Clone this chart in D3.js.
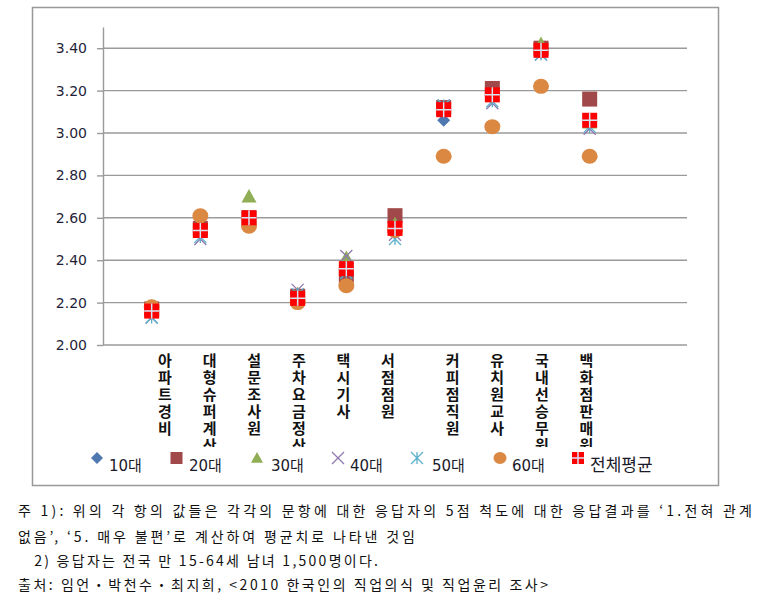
<!DOCTYPE html>
<html><head><meta charset="utf-8">
<script src="https://cdn.jsdelivr.net/npm/d3@7"></script>
<style>body{margin:0;background:#fff}svg{display:block}</style>
</head><body>
<svg id="c" width="761" height="615"></svg>
<script>
const categories = ["아파트경비","대형슈퍼계산","설문조사원","주차요금정산","택시기사","서점점원","커피점직원","유치원교사","국내선승무원","백화점판매원"];
const seriesNames = ["10대","20대","30대","40대","50대","60대","전체평균"];
const v10  = [2.15,2.53,2.58,2.22,2.35,2.55,3.06,3.17,3.38,3.04];
const v20  = [2.17,2.55,2.60,2.23,2.33,2.61,3.12,3.21,3.40,3.16];
const v30  = [2.18,2.56,2.70,2.24,2.41,2.57,3.11,3.18,3.42,3.05];
const v40  = [2.13,2.50,2.58,2.26,2.42,2.52,3.13,3.14,3.37,3.02];
const v50  = [2.13,2.51,2.58,2.24,2.34,2.50,3.13,3.15,3.37,3.03];
const v60  = [2.18,2.61,2.56,2.20,2.28,2.54,2.89,3.03,3.22,2.89];
const vAvg = [2.16,2.54,2.60,2.22,2.36,2.55,3.11,3.18,3.39,3.06];
const yTicks = [2.0,2.2,2.4,2.6,2.8,3.0,3.2,3.4];
const notes = [
  "주 1): 위의 각 항의 값들은 각각의 문항에 대한 응답자의 5점 척도에 대한 응답결과를 ‘1.전혀 관계",
  "없음’, ‘5. 매우 불편’로 계산하여 평균치로 나타낸 것임",
  "   2) 응답자는 전국 만 15-64세 남녀 1,500명이다.",
  "출처: 임언・박천수・최지희, <2010 한국인의 직업의식 및 직업윤리 조사>"
];

const allSeries = [v10,v20,v30,v40,v50,v60,vAvg];
const colors = ["#4F77B0","#A0484A","#8FAE55","#8F78B0","#5BB0CC","#DB8843","#FF0000"];
const kinds = ["diamond","square","triangle","x","star","circle","avg"];

const svg = d3.select("#c");
svg.append("defs").append("clipPath").attr("id","labclip")
  .append("rect").attr("x",100).attr("y",346).attr("width",600).attr("height",101);
svg.append("rect").attr("x",32.5).attr("y",7.5).attr("width",686).attr("height",478)
  .attr("fill","#fff").attr("stroke","#999").attr("stroke-width",1.5);

const x = d3.scaleLinear().domain([0,12]).range([103,687]);
const y = d3.scaleLinear().domain([2.0,3.5]).range([345,27]);

svg.append("g").selectAll("line").data(yTicks.slice(1)).join("line")
  .attr("x1",103).attr("x2",687).attr("y1",d=>y(d)).attr("y2",d=>y(d))
  .attr("stroke","#9a9a9a").attr("stroke-width",1.4);

const ya = svg.append("g").attr("transform","translate(103,0)")
  .call(d3.axisLeft(y).tickValues(yTicks).tickFormat(d3.format(".2f")).tickSize(6).tickSizeOuter(0));
ya.select(".domain").attr("stroke","#9a9a9a").attr("stroke-width",1.4);
ya.selectAll(".tick line").attr("stroke","#9a9a9a").attr("stroke-width",1.4);
ya.selectAll(".tick text").attr("font-family","DejaVu Sans, Verdana, sans-serif")
  .attr("font-size",14).attr("fill","#1f1f3a").attr("x",-16);

svg.append("line").attr("x1",103).attr("x2",687).attr("y1",y(2.0)).attr("y2",y(2.0))
  .attr("stroke","#9a9a9a").attr("stroke-width",1.4);

const labelX = d3.scaleLinear().domain([0,9]).range([165,566.4]);
const lab = svg.append("g").attr("clip-path","url(#labclip)");
categories.forEach((c,i)=>{
  const cx = labelX(i) + (i>=6?20:0);
  Array.from(c).forEach((ch,j)=>{
    lab.append("text").attr("x",cx).attr("y",366+j*17).attr("text-anchor","middle")
      .attr("font-family","Noto Sans CJK KR, sans-serif").attr("font-weight","bold")
      .attr("font-size",15).attr("fill","#111").text(ch);
  });
});

function drawSym(g, kind, color, cx, cy, s){
  const h = s/2;
  if(kind==="diamond"){
    g.append("path").attr("d",`M${cx},${cy-h}L${cx+h},${cy}L${cx},${cy+h}L${cx-h},${cy}Z`).attr("fill",color);
  } else if(kind==="square"){
    g.append("rect").attr("x",cx-h).attr("y",cy-h).attr("width",s).attr("height",s).attr("fill",color);
  } else if(kind==="triangle"){
    g.append("path").attr("d",`M${cx},${cy-h}L${cx+h},${cy+h*0.8}L${cx-h},${cy+h*0.8}Z`).attr("fill",color);
  } else if(kind==="x"){
    g.append("path").attr("d",`M${cx-h},${cy-h}L${cx+h},${cy+h}M${cx-h},${cy+h}L${cx+h},${cy-h}`)
      .attr("stroke",color).attr("stroke-width",1.3).attr("fill","none");
  } else if(kind==="star"){
    g.append("path").attr("d",`M${cx-h},${cy-h}L${cx+h},${cy+h}M${cx-h},${cy+h}L${cx+h},${cy-h}M${cx},${cy-h}L${cx},${cy+h}`)
      .attr("stroke",color).attr("stroke-width",1.3).attr("fill","none");
  } else if(kind==="circle"){
    g.append("ellipse").attr("cx",cx).attr("cy",cy).attr("rx",h+0.5).attr("ry",h).attr("fill",color);
  } else if(kind==="avg"){
    g.append("rect").attr("x",cx-h).attr("y",cy-h).attr("width",s).attr("height",s).attr("fill",color);
    g.append("path").attr("d",`M${cx},${cy-h}L${cx},${cy+h}M${cx-h},${cy}L${cx+h},${cy}`)
      .attr("stroke","#d8e4f4").attr("stroke-width",1.5);
  }
}

const sizes = [13,15,15,12,12,15,15];
const pts = svg.append("g");
allSeries.forEach((vals,si)=>{
  vals.forEach((v,i)=>drawSym(pts, kinds[si], colors[si], x(i+1), y(v), sizes[si]));
});

const leg = svg.append("g");
leg.append("rect").attr("x",60).attr("y",447).attr("width",640).attr("height",30).attr("fill","#fff");
const legSym = [97,176.5,257,338,417,500,578];
const legText = [109,189,271,350,432,512,590];
seriesNames.forEach((n,i)=>{
  drawSym(leg, kinds[i], colors[i], legSym[i], 458, 12);
  const t = leg.append("text").attr("x",legText[i]).attr("y",471)
    .attr("font-size",15).attr("fill","#1a1a2a").attr("font-family","DejaVu Sans, Verdana, sans-serif");
  const m = n.match(/^(\d+)(.*)$/);
  if(m){
    t.append("tspan").text(m[1]);
    t.append("tspan").attr("font-family","Noto Sans CJK KR, sans-serif").text(m[2]);
  } else {
    t.attr("font-family","Noto Sans CJK KR, sans-serif").attr("font-size",17).text(n);
  }
});

const noteY = [516,542,566,590];
const noteW = [734,397,360,530];
notes.forEach((n,i)=>{
  svg.append("text").attr("x",18).attr("y",noteY[i])
    .attr("font-family","Noto Sans CJK KR, serif").attr("font-size",14).attr("fill","#111")
    .style("white-space","pre")
    .attr("textLength",noteW[i]).attr("lengthAdjust","spacing").text(n);
});
</script>
</body></html>
